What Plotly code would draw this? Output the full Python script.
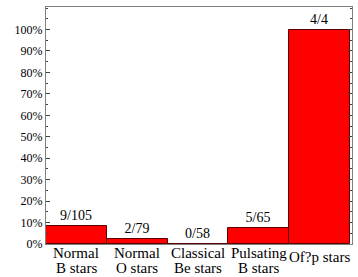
import plotly.graph_objects as go

categories = ["Normal B stars", "Normal O stars", "Classical Be stars", "Pulsating B stars", "Of?p stars"]
label_line1 = ["Normal", "Normal", "Classical", "Pulsating", "Of?p stars"]
label_line2 = ["B stars", "O stars", "Be stars", "B stars", ""]
percentages = [8.57, 2.53, 0.0, 7.69, 100.0]
bar_labels = ["9/105", "2/79", "0/58", "5/65", "4/4"]
tick_vals = [0, 10, 20, 30, 40, 50, 60, 70, 80, 90, 100]
tick_text = ["0%", "10%", "20%", "30%", "40%", "50%", "60%", "70%", "80%", "90%", "100%"]

FONT = "Liberation Serif"

fig = go.Figure(go.Bar(
    x=categories,
    y=percentages,
    text=bar_labels,
    textposition="outside",
    cliponaxis=False,
    textfont=dict(family=FONT, size=14, color="black"),
    marker=dict(color="#ff0000", line=dict(color="#5a0000", width=1)),
))

for cat, l1, l2 in zip(categories, label_line1, label_line2):
    if l2:
        fig.add_annotation(x=cat, xref="x", y=0, yref="paper", text=l1, showarrow=False,
                           yanchor="middle", yshift=-9, font=dict(family=FONT, size=15, color="black"))
        fig.add_annotation(x=cat, xref="x", y=0, yref="paper", text=l2, showarrow=False,
                           yanchor="middle", yshift=-24, font=dict(family=FONT, size=15, color="black"))
    else:
        fig.add_annotation(x=cat, xref="x", y=0, yref="paper", text=l1, showarrow=False,
                           yanchor="middle", yshift=-13, font=dict(family=FONT, size=15, color="black"))

fig.update_layout(
    width=358, height=277,
    margin=dict(l=46, r=6, t=7, b=33),
    paper_bgcolor="white", plot_bgcolor="white",
    bargap=0,
    showlegend=False,
    font=dict(family=FONT, color="black"),
)
fig.update_xaxes(
    showline=True, linecolor="#808080", linewidth=1, mirror=True,
    ticks="", showgrid=False, showticklabels=False, automargin=False,
)
fig.update_yaxes(
    range=[0, 110.5],
    tickvals=tick_vals, ticktext=tick_text,
    showline=True, linecolor="#808080", linewidth=1, mirror="ticks",
    ticks="inside", ticklen=4, tickcolor="#404040",
    minor=dict(ticks="inside", dtick=5, ticklen=2, tickcolor="#404040"),
    showgrid=False, zeroline=False, automargin=False,
    tickfont=dict(family=FONT, size=12, color="black"),
)

fig.write_html("out.html", config={"displayModeBar": False},
               post_script="document.body.style.margin='0';document.body.style.overflow='hidden';")
